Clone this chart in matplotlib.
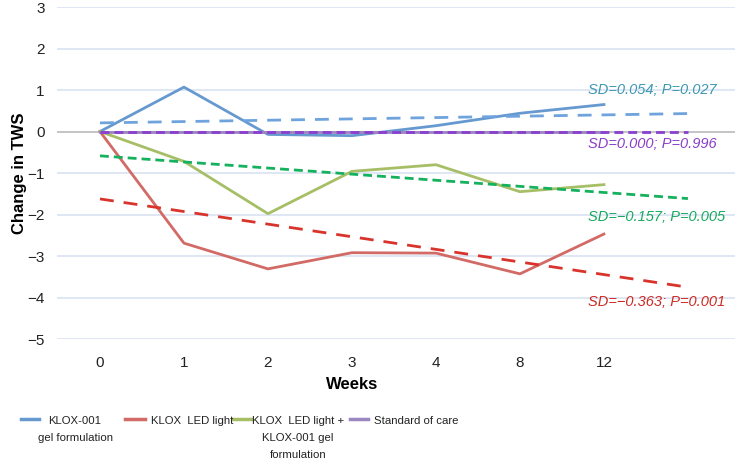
import numpy as np
import matplotlib
matplotlib.use("Agg")
import matplotlib.pyplot as plt
from matplotlib.lines import Line2D

plt.rcParams['font.family'] = ['Liberation Sans', 'DejaVu Sans']

weeks = ["0", "1", "2", "3", "4", "8", "12"]
gel = [0, 1.07, -0.07, -0.10, 0.14, 0.44, 0.65]
led = [0, -2.69, -3.31, -2.92, -2.93, -3.43, -2.47]
led_gel = [0, -0.72, -1.98, -0.96, -0.80, -1.45, -1.28]
soc = [0, 0, 0, 0, 0, 0, 0]

names = ["KLOX-001\ngel formulation", "KLOX  LED light",
         "KLOX  LED light +\nKLOX-001 gel\nformulation", "Standard of care"]
stats = ["SD=0.054; P=0.027", "SD=\u22120.363; P=0.001",
         "SD=\u22120.157; P=0.005", "SD=0.000; P=0.996"]
label_y = [0.99, -4.1, -2.07, -0.29]

line_colors = ["#6699D0", "#D26A66", "#A6BF66", "#9A86C0"]
trend_colors = ["#6FA3DD", "#D8342C", "#16B15E", "#8A3FD0"]
text_colors = ["#3F97B2", "#CC2B23", "#18A95F", "#8A3FC8"]
dashes = [(5, 3.6), (5, 3.6), (3.2, 1.8), (3.2, 1.8)]

W, H = 736, 459
fig = plt.figure(figsize=(W / 100, H / 100), dpi=100)
ax = fig.add_axes([0.0774, 0.2614, 0.9212, 0.7233])

x = np.arange(len(weeks))
series = [gel, led, led_gel, soc]

for yv in range(-5, 4):
    if yv == 0:
        ax.axhline(0, color="#BFBFBF", lw=1.3, zorder=1)
    else:
        ax.axhline(yv, color="#DCE5F3", lw=1.3, zorder=0)

for i, s in enumerate(series):
    ax.plot(x, s, color=line_colors[i], lw=2.0, zorder=3)

# linear trend lines, forecast one period forward
xt = np.arange(len(weeks) + 1)
order = [0, 2, 1, 3]
for i in order:
    k, b = np.polyfit(x, series[i], 1)
    ax.plot(xt, k * xt + b, color=trend_colors[i], lw=2.0,
            dashes=dashes[i], zorder=4)
    ax.text(5.81, label_y[i], stats[i], color=text_colors[i],
            fontsize=10.5, style='italic', va='center', ha='left', zorder=5)

ax.set_xlim(-0.512, 7.56)
ax.set_ylim(-5, 3)
ax.set_xticks(x)
ax.set_xticklabels(weeks)
ax.set_yticks(range(-5, 4))
ax.set_yticklabels([str(v).replace("-", "\u2212") for v in range(-5, 4)])
ax.tick_params(length=0, labelsize=11, colors="#222222")
ax.tick_params(axis='x', pad=12)
ax.tick_params(axis='y', pad=9)
for sp in ax.spines.values():
    sp.set_visible(False)

ax.set_xlabel("Weeks", fontsize=12, fontweight='bold')
ax.xaxis.set_label_coords(0.435, -0.115)
ax.set_ylabel("Change in TWS", fontsize=12, fontweight='bold')
ax.yaxis.set_label_coords(-0.044, 0.5)

# legend laid out by hand: handle level with the first text line
handle_x = [(21, 39), (125, 145), (233, 251), (350, 368)]
text_x = [75, 151, 298, 374]
text_ha = ['center', 'left', 'center', 'left']
leg_y = 419
for i in range(4):
    x0, x1 = handle_x[i]
    fig.add_artist(Line2D([x0 / W, x1 / W], [1 - leg_y / H, 1 - leg_y / H],
                          color=line_colors[i], lw=2.5,
                          transform=fig.transFigure))
    fig.text(text_x[i] / W, 1 - (leg_y - 3) / H, names[i], fontsize=8.2,
             ha=text_ha[i], va='top', multialignment='center',
             linespacing=1.85, color="#222222")

fig.savefig("out.png", dpi=100)
